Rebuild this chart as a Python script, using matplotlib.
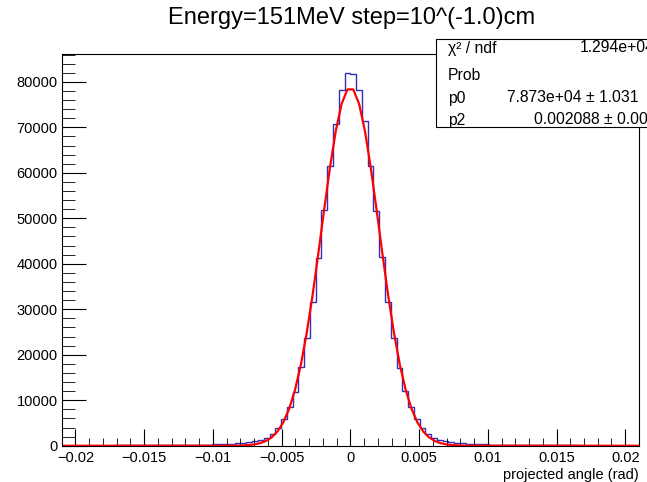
import numpy as np
import matplotlib
matplotlib.use("Agg")
import matplotlib.pyplot as plt
from matplotlib.ticker import MultipleLocator

plt.rcParams['font.family'] = ['Liberation Sans', 'DejaVu Sans']

# histogram: 100 bins on [-0.021, 0.021]
x_min, x_max, n_bins = -0.021, 0.021, 100
left_counts = [18, 20, 22, 25, 28, 31, 35, 39, 44, 49,
               54, 60, 66, 72, 78, 84, 90, 96, 103, 110,
               118, 130, 150, 175, 205, 240, 280, 330, 390, 460,
               550, 660, 800, 980, 1250, 1700, 2500, 3900, 5900, 8580,
               11820, 17260, 23640, 31630, 41250, 51730, 61570, 70800, 78140, 81950]
right_counts = [81800, 78100, 71300, 61500, 51500, 41470, 31560, 23770, 17100, 12040,
                8500, 5850, 3950, 2550, 1720, 1240, 990, 790, 650, 545,
                455, 385, 325, 275, 235, 200, 172, 148, 128, 112,
                100, 92, 85, 78, 72, 66, 60, 55, 50, 46,
                42, 38, 35, 32, 29, 26, 24, 22, 20, 18]
counts = left_counts + right_counts

# fit parameters from the stats box
p0 = 7.873e4
p1 = 0.0
p2 = 0.002088

title = "Energy=151MeV step=10^(-1.0)cm"
xlabel = "projected angle (rad)"

edges = np.linspace(x_min, x_max, n_bins + 1)

fig = plt.figure(figsize=(6.47, 4.82), dpi=100)
ax = fig.add_axes([0.0954, 0.0753, 0.8922, 0.812])

ax.stairs(counts, edges, color="#2f2fb8", lw=1.0)

xf = np.linspace(x_min, x_max, 100)
ax.plot(xf, p0 * np.exp(-0.5 * ((xf - p1) / p2) ** 2), color="red", lw=1.6)

ax.set_xlim(x_min, x_max)
ax.set_ylim(0, 1.05 * max(counts))

ax.xaxis.set_major_locator(MultipleLocator(0.005))
ax.xaxis.set_minor_locator(MultipleLocator(0.001))
ax.yaxis.set_major_locator(MultipleLocator(10000))
ax.yaxis.set_minor_locator(MultipleLocator(2000))
ax.tick_params(which="both", direction="in", top=False, right=False, labelsize=10.5)
ax.tick_params(axis="x", which="major", length=12, pad=4)
ax.tick_params(axis="x", which="minor", length=6)
ax.tick_params(axis="y", which="major", length=17, pad=3)
ax.tick_params(axis="y", which="minor", length=9)
ax.xaxis.set_major_formatter(matplotlib.ticker.FuncFormatter(
    lambda v, pos: "0" if abs(v) < 1e-12 else ("%g" % v).replace("-", "\u2212")))
for s in ax.spines.values():
    s.set_linewidth(0.8)

ax.set_xlabel(xlabel, fontsize=10.5, loc="right", labelpad=2)
fig.text(0.543, 0.963, title, ha="center", va="center", fontsize=17)

# stats box (runs off the right edge, as in the original)
W, H = 647.0, 482.0
box = plt.Rectangle((436 / W, 1 - 127 / H), 260 / W, 88 / H, transform=fig.transFigure,
                    facecolor="white", edgecolor="black", lw=0.8, zorder=5)
fig.add_artist(box)
rows = [("\u03c7\u00b2 / ndf", "1.294e+04", 580, 48),
        ("Prob", "", 0, 75),
        ("p0", "7.873e+04 \u00b1 1.031", 507, 98),
        ("p2", "0.002088 \u00b1 0.00", 534, 120)]
for name, val, vx, y in rows:
    fig.text(448 / W, 1 - y / H, name, ha="left", va="center", fontsize=11.3, zorder=6)
    if val:
        fig.text(vx / W, 1 - y / H, val, ha="left", va="center", fontsize=11.3, zorder=6)

fig.savefig("out.png", dpi=100)
